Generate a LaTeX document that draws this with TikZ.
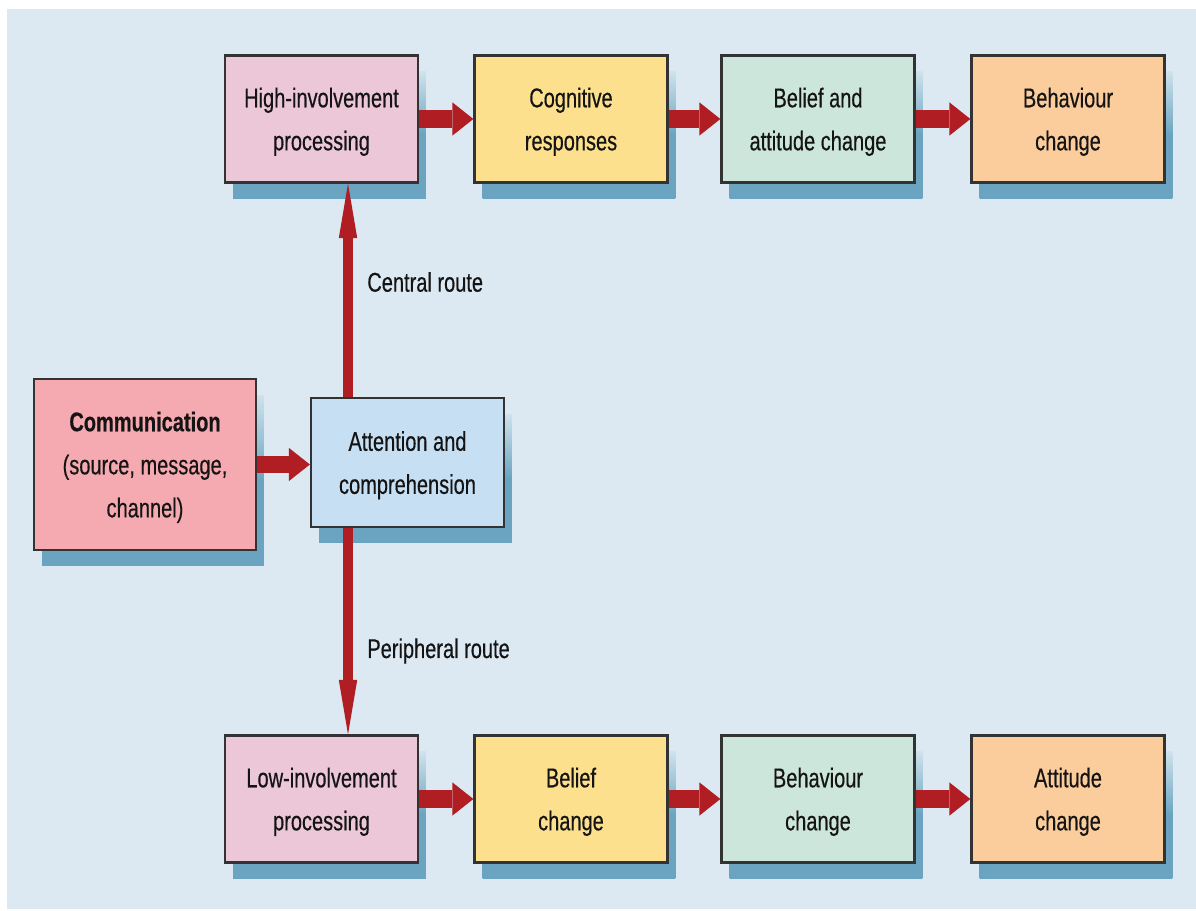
\documentclass[tikz,border=0pt]{standalone}
\usepackage{fontspec}
\setmainfont[FakeStretch=0.74,FakeBold=0.4]{Liberation Sans}
\usetikzlibrary{arrows.meta,shadows}
\definecolor{bgblue}{HTML}{DCE9F2}
\definecolor{shadowblue}{HTML}{6AA4C0}
\definecolor{shadowtop}{HTML}{CFE2EC}
\definecolor{pinkbox}{HTML}{EBC7D7}
\definecolor{yellowbox}{HTML}{FDE08E}
\definecolor{greenbox}{HTML}{CCE6DB}
\definecolor{orangebox}{HTML}{FCCD9C}
\definecolor{commbox}{HTML}{F5A9B0}
\definecolor{attbox}{HTML}{C7DFF2}
\definecolor{arrowred}{HTML}{B01E24}
\definecolor{boxline}{HTML}{333333}
\begin{document}
\begin{tikzpicture}[x=0.02cm,y=-0.02cm,
  box/.style={draw=boxline, line width=1.3pt, text=black!92, align=center,
    minimum width=3.86cm, minimum height=2.54cm, inner sep=0pt, text depth=-7pt,
    font=\fontsize{15.4}{24.5}\selectfont,
    general shadow={shadow xshift=0.16cm, shadow yshift=-0.32cm,
      top color=shadowtop, bottom color=shadowblue, middle color=shadowblue}},
  hop/.style={draw=arrowred, line width=10pt, -{Triangle[length=12pt,width=19pt,line width=0pt]}},
  route/.style={draw=arrowred, line width=5.7pt, -{Triangle[length=31pt,width=10.5pt,line width=0pt]}},
  routetext/.style={font=\fontsize{15.4}{24.5}\selectfont, text=black!92, anchor=west, inner sep=0pt}]
\useasboundingbox (0,0) rectangle (1196,911);
%background
\fill[bgblue] (7,9) rectangle (1196,909);
%top row:
\node[box, fill=pinkbox] (hip) at (321.5,119) {High-involvement\\processing};
\node[box, fill=yellowbox] (cog) at (571,119) {Cognitive\\responses};
\node[box, fill=greenbox] (bac) at (818,119) {Belief and\\attitude change};
\node[box, fill=orangebox] (bhc) at (1068,119) {Behaviour\\change};
%middle:
\node[box, fill=commbox, minimum width=4.44cm, minimum height=3.42cm] (comm) at (145,464.5) {\textbf{Communication}\\(source, message,\\channel)};
\node[box, fill=attbox, minimum height=2.58cm] (att) at (407.5,462.5) {Attention and\\comprehension};
%bottom row:
\node[box, fill=pinkbox] (lip) at (321.5,799) {Low-involvement\\processing};
\node[box, fill=yellowbox] (blc) at (571,799) {Belief\\change};
\node[box, fill=greenbox] (bvc) at (818,799) {Behaviour\\change};
\node[box, fill=orangebox] (atc) at (1068,799) {Attitude\\change};
%route labels
\node[routetext] (crt) at (367,282) {Central route};
\node[routetext] (prt) at (367,651) {Peripheral route};
%arrows:
\draw[hop] (comm.east) -- (comm.east -| att.west);
\draw[route] ([xshift=-1.19cm]att.north) -- ([xshift=-1.19cm]att.north |- hip.south);
\draw[route] ([xshift=-1.19cm]att.south) -- ([xshift=-1.19cm]att.south |- lip.north);
\draw[hop] (hip.east) -- (cog.west);
\draw[hop] (cog.east) -- (bac.west);
\draw[hop] (bac.east) -- (bhc.west);
\draw[hop] (lip.east) -- (blc.west);
\draw[hop] (blc.east) -- (bvc.west);
\draw[hop] (bvc.east) -- (atc.west);
\end{tikzpicture}
\end{document}
